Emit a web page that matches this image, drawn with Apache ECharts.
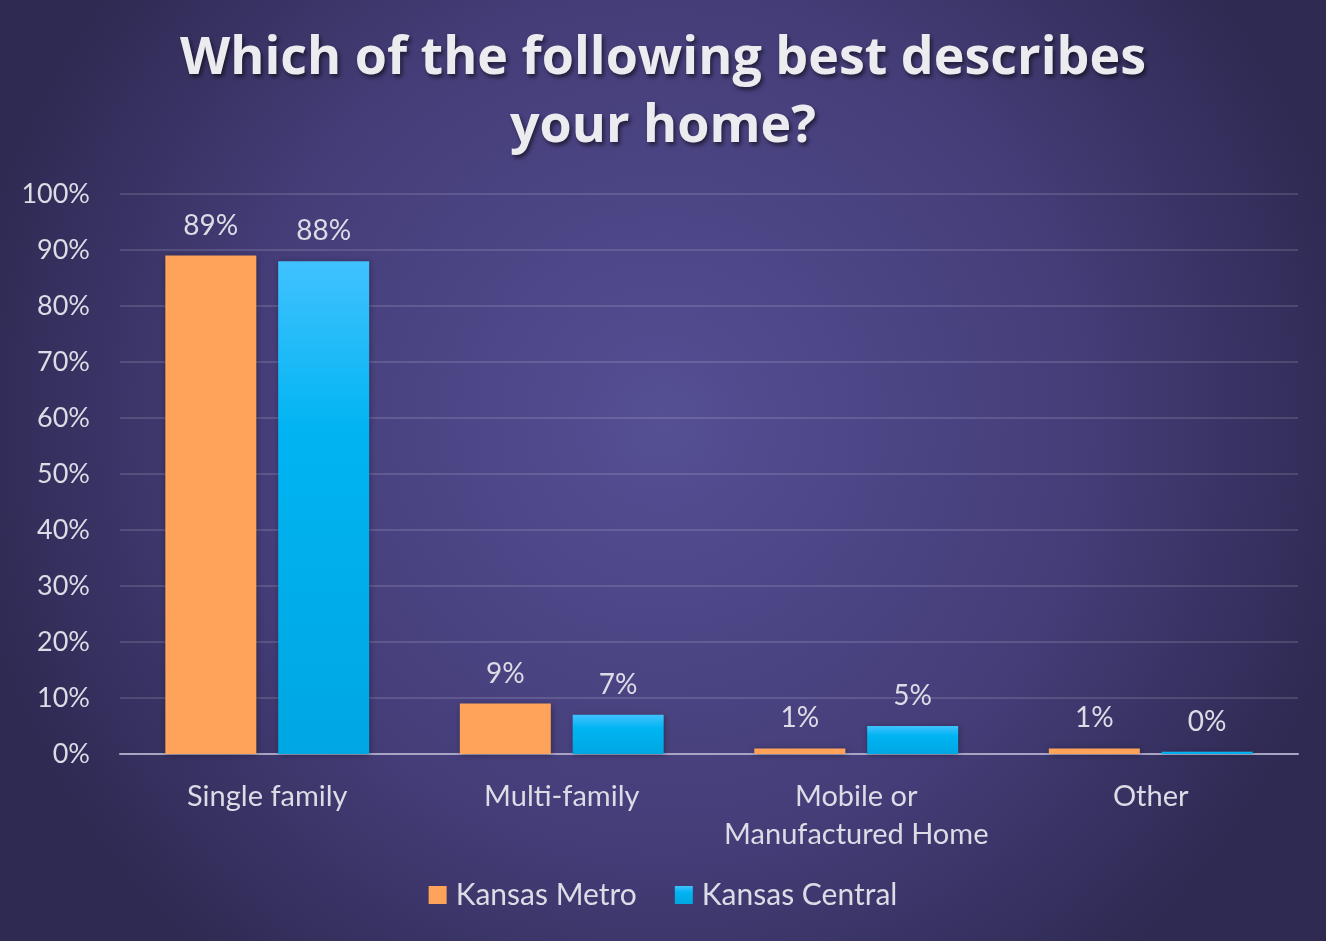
<!DOCTYPE html>
<html><head><meta charset="utf-8">
<script src="https://cdn.jsdelivr.net/npm/echarts@6/dist/echarts.min.js"></script>
<style>html,body{margin:0;padding:0;background:#3a3566}#c{width:1326px;height:941px}</style>
</head><body><div id="c"></div>
<script>
const categories = ['Single family', 'Multi-family', 'Mobile or\nManufactured Home', 'Other'];
const seriesNames = ['Kansas Metro', 'Kansas Central'];
const kansasMetro = [89, 9, 1, 1];
const kansasCentral = [88, 7, 5, 0.4];
const yTicks = [0, 10, 20, 30, 40, 50, 60, 70, 80, 90, 100];

const chart = echarts.init(document.getElementById('c'), null, {renderer: 'canvas'});
const FONT = 'Lato';
const labelColor = '#dcdbe6';
const barShadow = {shadowColor: 'rgba(0,0,0,0.35)', shadowBlur: 6, shadowOffsetX: 1, shadowOffsetY: 1};
chart.setOption({
  backgroundColor: {
    type: 'radial', x: 0.5, y: 0.45, r: 0.75,
    colorStops: [{offset: 0, color: '#554f94'}, {offset: 0.6, color: '#443d78'}, {offset: 1, color: '#2e2a52'}]
  },
  title: {
    text: 'Which of the following best describes\nyour home?',
    left: 'center', top: 20,
    textStyle: {
      fontFamily: 'Open Sans', fontWeight: 'bold', fontSize: 52, lineHeight: 68,
      color: '#ececf0',
      textShadowColor: 'rgba(0,0,0,0.55)', textShadowBlur: 4, textShadowOffsetX: 2, textShadowOffsetY: 3
    }
  },
  legend: {
    data: seriesNames, bottom: 26, left: 'center', icon: 'rect',
    itemWidth: 18, itemHeight: 18, itemGap: 38,
    textStyle: {fontFamily: FONT, fontSize: 30, color: labelColor, padding: [0, 0, 0, 4]}
  },
  grid: {left: 120, right: 28, top: 194, bottom: 187, containLabel: false},
  xAxis: {
    type: 'category', data: categories,
    axisLine: {lineStyle: {color: '#a7a4c4', width: 2}},
    axisTick: {show: false},
    axisLabel: {interval: 0, fontFamily: FONT, fontSize: 29, color: labelColor, margin: 24, lineHeight: 38}
  },
  yAxis: {
    type: 'value', min: 0, max: 100, interval: 10,
    axisLabel: {
      fontFamily: FONT, fontSize: 27, color: labelColor, margin: 30,
      formatter: v => yTicks.includes(v) ? v + '%' : ''
    },
    axisLine: {show: false}, axisTick: {show: false},
    splitLine: {lineStyle: {color: 'rgba(255,255,255,0.13)', width: 2}}
  },
  series: [
    {
      name: seriesNames[0], type: 'bar', data: kansasMetro,
      barWidth: 91, barGap: '24%',
      itemStyle: Object.assign({color: '#ffa35a'}, barShadow),
      label: {show: true, position: 'top', distance: 16, fontFamily: FONT, fontSize: 28, color: labelColor,
        formatter: p => Math.round(p.value) + '%'}
    },
    {
      name: seriesNames[1], type: 'bar', data: kansasCentral,
      barWidth: 91,
      itemStyle: Object.assign({
        color: {type: 'linear', x: 0, y: 0, x2: 0, y2: 1,
          colorStops: [{offset: 0, color: '#40c2ff'}, {offset: 0.35, color: '#00b4f2'}, {offset: 1, color: '#00a7e2'}]}
      }, barShadow),
      label: {show: true, position: 'top', distance: 16, fontFamily: FONT, fontSize: 28, color: labelColor,
        formatter: p => Math.round(p.value) + '%'}
    }
  ]
});
</script>
</body></html>
